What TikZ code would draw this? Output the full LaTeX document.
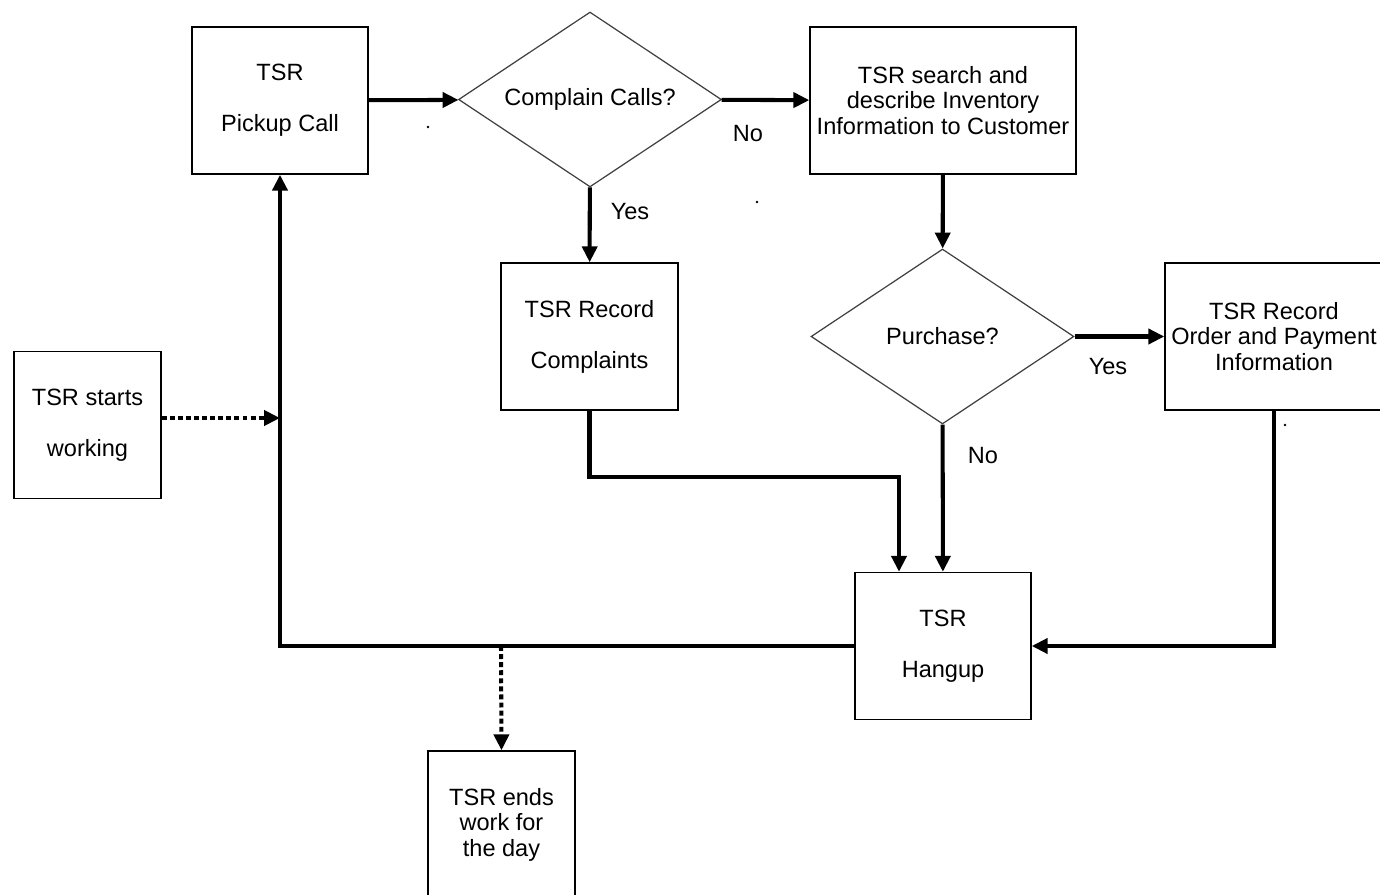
\documentclass[tikz,border=0pt]{standalone}
\usepackage{fontspec}
\setmainfont{Liberation Sans}
\usetikzlibrary{shapes.geometric,arrows.meta}

\def\boxh{2.94cm}
\def\gap{14.5pt}

\tikzset{
    box/.style={draw, line width=0.8pt, minimum height=\boxh, inner sep=0pt, align=center},
    decision/.style={diamond, aspect=1.6, draw=black!75, line width=0.7pt, minimum width=5.26cm, minimum height=3.5cm, inner sep=0pt, align=center},
    flow/.style={line width=2.3pt, -{Triangle[length=0.32cm,width=0.3cm]}},
    dotflow/.style={flow, dash pattern=on 2.8pt off 1.8pt},
    answer/.style={inner sep=0pt}
}

\begin{document}
\begin{tikzpicture}[x=0.02cm, y=-0.02cm, font=\fontsize{13.4pt}{\gap}\selectfont]
    \path[use as bounding box, clip] (0,0) rectangle (1380,895);

%caixas
    \node[box, minimum width=3.52cm] (pick) at (280,100.5) {TSR\\[\gap]Pickup Call};
    \node[decision] (complain) at (590,99.5) {Complain Calls?};
    \node[box, minimum width=5.32cm] (inventory) at (943,100.5) {TSR search and\\describe Inventory\\Information to Customer};
    \node[box, minimum width=3.54cm] (record) at (589.5,336.5) {TSR Record\\[\gap]Complaints};
    \node[decision] (purchase) at (942.5,336.5) {Purchase?};
    \node[box, minimum width=4.36cm] (order) at (1274,336.5) {TSR Record\\Order and Payment\\Information};
    \node[box, minimum width=2.94cm] (start) at (87.5,425) {TSR starts\\[\gap]working};
    \node[box, minimum width=3.52cm] (hang) at (943,646) {TSR\\[\gap]Hangup};
    \node[box, minimum width=2.94cm, minimum height=2.94cm] (ends) at (501.5,824.5) {TSR ends\\work for\\the day};

%respostas
    \node[answer] (no1) at (748,134) {No};
    \node[answer] (yes1) at (630,212) {Yes};
    \node[answer] (yes2) at (1108,367) {Yes};
    \node[answer] (no2) at (983,456) {No};

%setas
    \draw[flow] (pick) -- (complain);
    \draw[flow] (complain) -- (inventory);
    \draw[flow] (complain) -- (record);
    \draw[flow] (inventory) -- (purchase);
    \draw[flow] (purchase) -- (order);
    \draw[flow] (purchase) -- (hang);

    \coordinate (recjoin) at (899,477);
    \draw[flow] (record.south) |- (recjoin) -- (recjoin |- hang.north);
    \draw[flow] (order.south) |- (hang.east);
    \draw[flow] (hang.west) -| (pick.south);

    \draw[dotflow] ([yshift=0.14cm]start.east) -- ([yshift=0.14cm]start.east -| pick.south);
    \coordinate (endsplit) at (501,646);
    \draw[dotflow] (endsplit) -- (ends.north);

%pontos soltos
    \foreach \p in {(428,127),(757,202),(1285,425)}
        \fill \p circle (0.8pt);

\end{tikzpicture}
\end{document}
